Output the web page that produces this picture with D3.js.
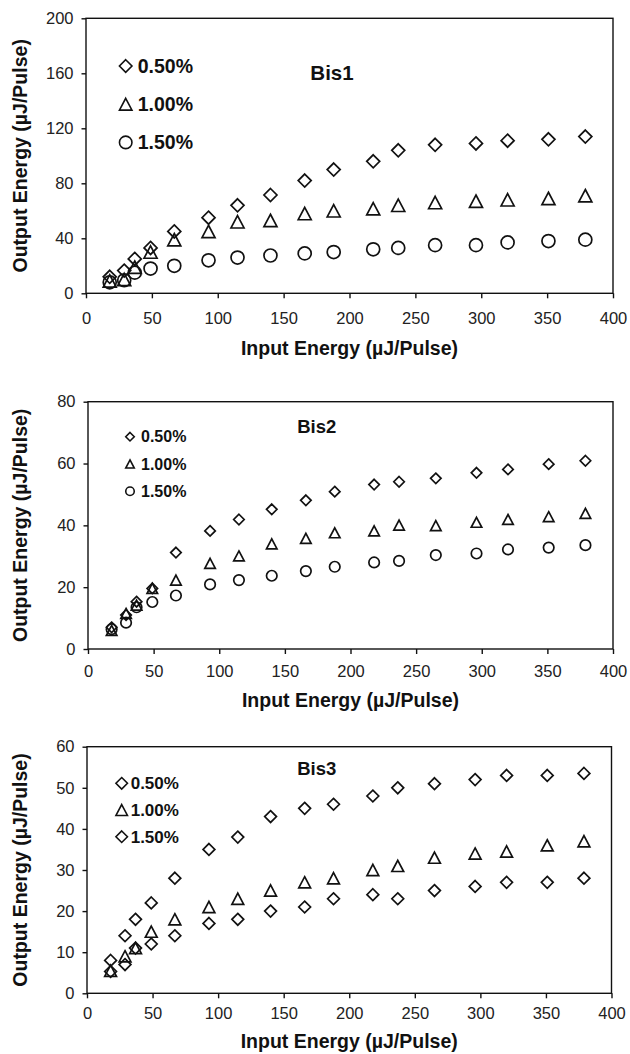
<!DOCTYPE html>
<html>
<head>
<meta charset="utf-8">
<script src="https://d3js.org/d3.v7.min.js"></script>
<style>
  body { margin: 0; background: #fff; }
  svg text { font-family: "Liberation Sans", Arial, sans-serif; }
</style>
</head>
<body>
<script>
// input energy, same for all three samples (uJ/Pulse)
const inputEnergy = [18, 29, 37, 49, 67, 93, 115, 140, 166, 188, 218, 237, 265, 296, 320, 351, 379];

const seriesNames = ["0.50%", "1.00%", "1.50%"];

// Bis1
const bis1_050 = [12, 16.5, 25, 33, 45, 55, 64, 71.5, 82, 90, 96, 104, 108, 109, 111, 112, 114];
const bis1_100 = [9, 10, 19, 30, 39, 45, 52, 53, 58, 60, 61.5, 64, 66, 67, 68, 69, 71];
const bis1_150 = [8, 9.5, 15, 18, 20, 24, 26, 27.5, 29, 30, 32, 33, 35, 35, 37, 38, 39];

// Bis2
const bis2_050 = [7, 11, 15.3, 19.6, 31.2, 38.2, 41.9, 45.2, 48.1, 50.9, 53.2, 54.1, 55.2, 57, 58.1, 59.8, 60.9];
const bis2_100 = [6, 11.5, 14.2, 19.6, 22.3, 27.7, 30.1, 34, 35.8, 37.6, 38.2, 40.1, 39.9, 41, 41.9, 42.8, 43.9];
const bis2_150 = [6.4, 8.5, 13.5, 15.2, 17.3, 20.9, 22.3, 23.7, 25.2, 26.6, 28, 28.5, 30.4, 30.9, 32.2, 32.8, 33.6];

// Bis3
const bis3_050 = [8, 14, 18, 22, 28, 35, 38, 43, 45, 46, 48, 50, 51, 52, 53, 53, 53.5];
const bis3_100 = [5.5, 9, 11, 15, 18, 21, 23, 25, 27, 28, 30, 31, 33, 34, 34.5, 36, 37];
const bis3_150 = [5.3, 7, 11, 12, 14, 17, 18, 20, 21, 23, 24, 23, 25, 26, 27, 27, 28];

const xTicks = [0, 50, 100, 150, 200, 250, 300, 350, 400];
const yTicks1 = [0, 40, 80, 120, 160, 200];
const yTicks2 = [0, 20, 40, 60, 80];
const yTicks3 = [0, 10, 20, 30, 40, 50, 60];

const xTitle = "Input Energy (\u00b5J/Pulse)";
const yTitle = "Output Energy (\u00b5J/Pulse)";

const svg = d3.select("body").append("svg").attr("width", 630).attr("height", 1054);

// marker shapes, s = full width
function marker(shape, s) {
  const h = s / 2;
  if (shape === "diamond") return `M0,${-h}L${h},0L0,${h}L${-h},0Z`;
  if (shape === "triangle") return `M0,${-h * 0.95}L${h},${h * 0.95}L${-h},${h * 0.95}Z`;
  return d3.arc()({innerRadius: 0, outerRadius: h, startAngle: 0, endAngle: 2 * Math.PI}).replace(/L0,0Z|Z/g, "") + "Z";
}
function circlePath(s) {
  const r = s / 2;
  return `M${r},0A${r},${r} 0 1,1 ${-r},0A${r},${r} 0 1,1 ${r},0Z`;
}
function shapePath(shape, s) {
  return shape === "circle" ? circlePath(s) : marker(shape, s);
}

const panels = [
  { label: "Bis1", box: {l: 86, r: 613, t: 18.3, b: 293.3}, yTicks: yTicks1,
    series: [bis1_050, bis1_100, bis1_150], shapes: ["diamond", "triangle", "circle"],
    mSize: 13, lgSize: 12.5, lg: {x: 125.7, y: 66, dy: 38.2, tx: 137.7, fs: 19.5},
    title: {x: 332, y: 80, fs: 20.5}, tickPad: 14.3, xTitleY: 355 },
  { label: "Bis2", box: {l: 88, r: 613, t: 401.7, b: 649}, yTicks: yTicks2,
    series: [bis2_050, bis2_100, bis2_150], shapes: ["diamond", "triangle", "circle"],
    mSize: 10.5, lgSize: 8.5, lg: {x: 130, y: 436.7, dy: 27.3, tx: 141, fs: 16},
    title: {x: 316.7, y: 433, fs: 18.5}, tickPad: 11, xTitleY: 707 },
  { label: "Bis3", box: {l: 87, r: 611.5, t: 746.7, b: 993.3}, yTicks: yTicks3,
    series: [bis3_050, bis3_100, bis3_150], shapes: ["diamond", "triangle", "diamond"],
    mSize: 11.8, lgSize: 11.5, lg: {x: 121.7, y: 783.3, dy: 26.7, tx: 130.7, fs: 17},
    title: {x: 316.7, y: 775, fs: 18.5}, tickPad: 9.3, xTitleY: 1048 }
];

panels.forEach(p => {
  const g = svg.append("g");
  const x = d3.scaleLinear().domain([0, 400]).range([p.box.l, p.box.r]);
  const yMax = p.yTicks[p.yTicks.length - 1];
  const y = d3.scaleLinear().domain([0, yMax]).range([p.box.b, p.box.t]);

  // frame
  g.append("rect")
    .attr("x", p.box.l).attr("y", p.box.t)
    .attr("width", p.box.r - p.box.l).attr("height", p.box.b - p.box.t)
    .attr("fill", "none").attr("stroke", "#111").attr("stroke-width", 1.4);

  // axes
  const xa = g.append("g").attr("transform", `translate(0,${p.box.b})`)
    .call(d3.axisBottom(x).tickValues(xTicks).tickSizeOuter(0).tickSize(5).tickPadding(p.tickPad));
  const ya = g.append("g").attr("transform", `translate(${p.box.l},0)`)
    .call(d3.axisLeft(y).tickValues(p.yTicks).tickSizeOuter(0).tickSize(4.5).tickPadding(8));
  [xa, ya].forEach(a => {
    a.select(".domain").remove();
    a.selectAll(".tick line").attr("stroke", "#111").attr("stroke-width", 1.4);
    a.selectAll(".tick text").attr("font-family", "Liberation Sans, Arial, sans-serif")
      .attr("font-size", 16.5).attr("fill", "#222");
  });

  // axis titles
  g.append("text")
    .attr("x", (p.box.l + p.box.r) / 2).attr("y", p.xTitleY)
    .attr("text-anchor", "middle").attr("font-weight", "bold").attr("font-size", 19.5)
    .attr("fill", "#111").text(xTitle);
  g.append("text")
    .attr("transform", `translate(27,${(p.box.t + p.box.b) / 2}) rotate(-90)`)
    .attr("text-anchor", "middle").attr("font-weight", "bold").attr("font-size", 19.5)
    .attr("fill", "#111").text(yTitle);

  // panel label
  g.append("text")
    .attr("x", p.title.x).attr("y", p.title.y)
    .attr("text-anchor", "middle").attr("font-weight", "bold").attr("font-size", p.title.fs)
    .attr("fill", "#111").text(p.label);

  // points
  p.series.forEach((vals, si) => {
    g.append("g").selectAll("path")
      .data(vals.map((v, i) => [inputEnergy[i], v]))
      .join("path")
      .attr("transform", d => `translate(${x(d[0])},${y(d[1])})`)
      .attr("d", shapePath(p.shapes[si], p.mSize))
      .attr("fill", "none").attr("stroke", "#111").attr("stroke-width", 1.7)
      .attr("stroke-linejoin", "miter");
  });

  // legend
  seriesNames.forEach((name, si) => {
    const ly = p.lg.y + si * p.lg.dy;
    g.append("path")
      .attr("transform", `translate(${p.lg.x},${ly})`)
      .attr("d", shapePath(p.shapes[si], p.lgSize))
      .attr("fill", "none").attr("stroke", "#111").attr("stroke-width", 1.6);
    g.append("text")
      .attr("x", p.lg.tx).attr("y", ly).attr("dy", "0.35em")
      .attr("font-weight", "bold").attr("font-size", p.lg.fs).attr("fill", "#111")
      .text(name);
  });
});
</script>
</body>
</html>
